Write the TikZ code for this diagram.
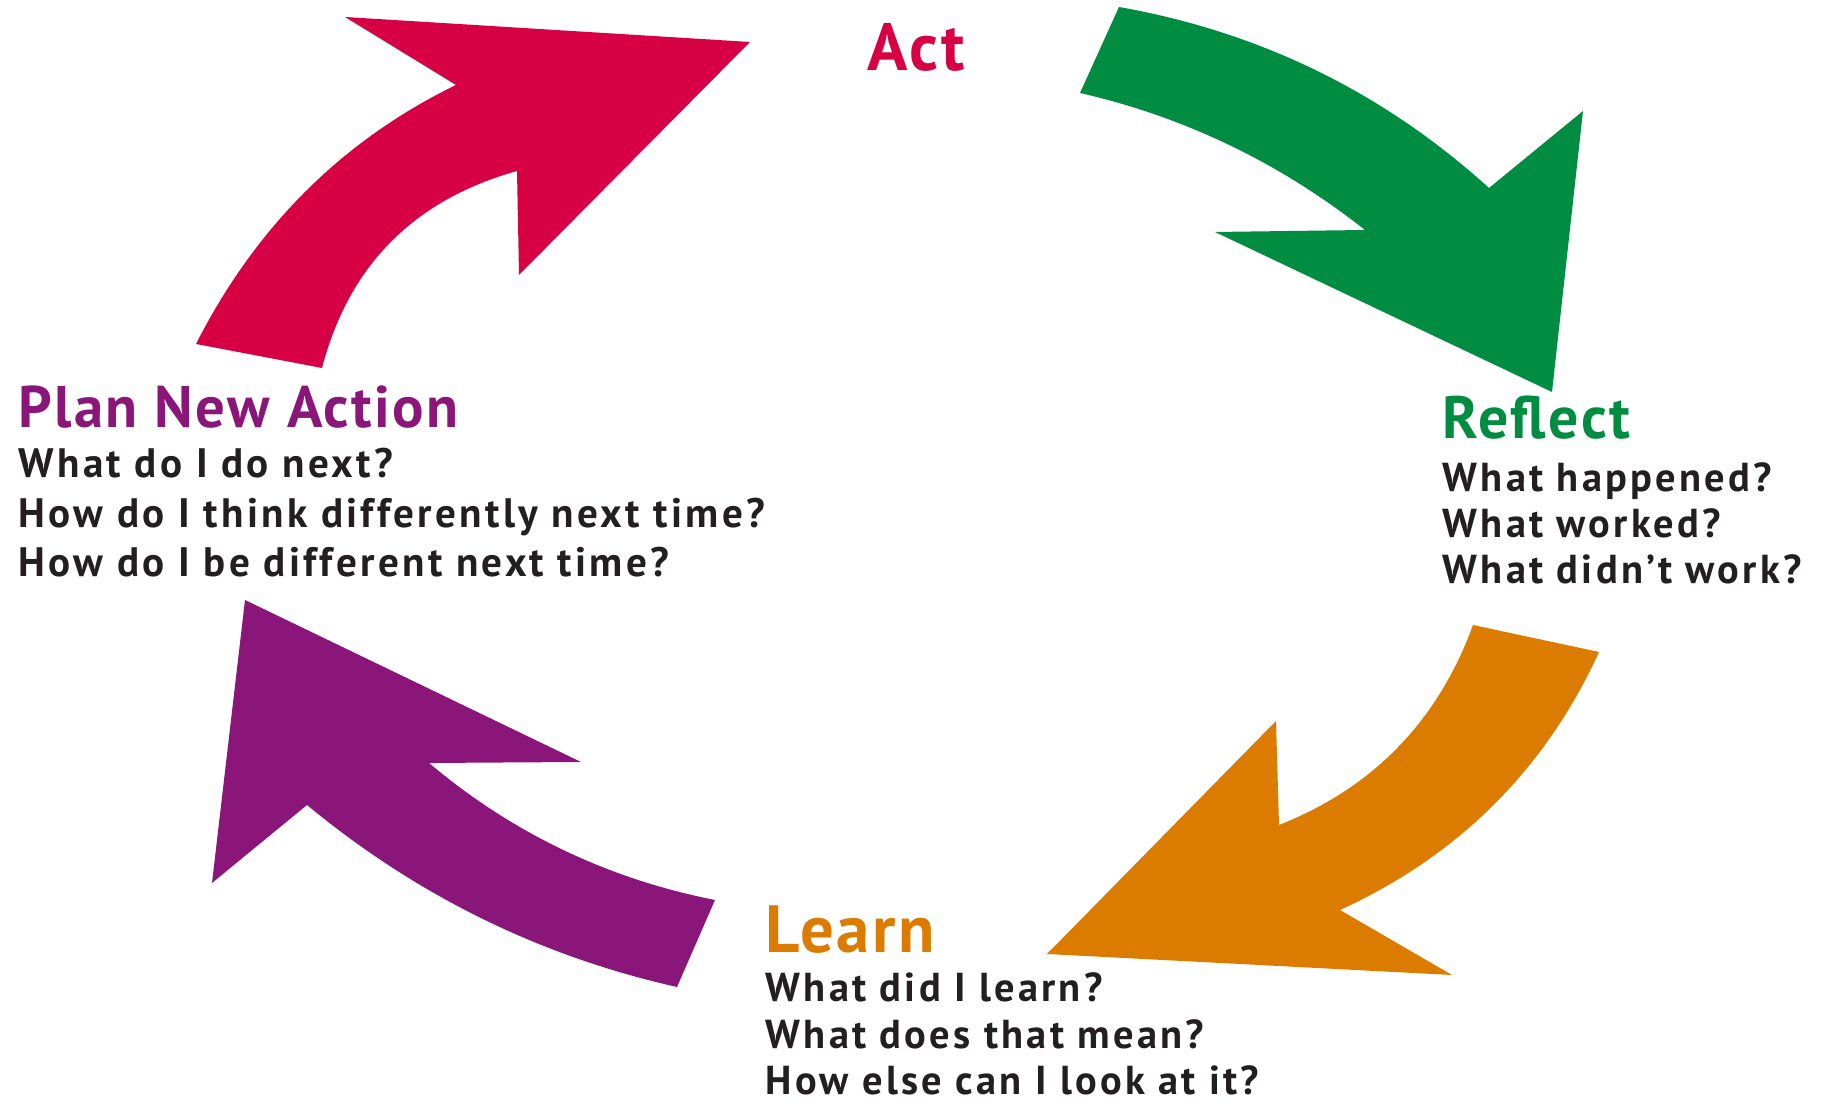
\documentclass[tikz,border=0pt]{standalone}
\usepackage{fontspec}
\setmainfont{PT Sans}
\newfontfamily\headfont[LetterSpace=4]{PT Sans}
\newfontfamily\questfont[LetterSpace=8]{PT Sans}
\usetikzlibrary{positioning}

\definecolor{actred}{RGB}{215,0,68}
\definecolor{reflectgreen}{RGB}{0,140,65}
\definecolor{learnorange}{RGB}{219,123,0}
\definecolor{planpurple}{RGB}{137,22,120}
\definecolor{qgray}{RGB}{35,31,32}

\tikzset{
  heading/.style={anchor=base west, inner sep=0pt, text=#1,
    font=\fontsize{17}{20}\headfont\bfseries},
  question/.style={anchor=base west, inner sep=0pt, text=qgray,
    font=\fontsize{11.5}{14}\questfont\bfseries}
}

\begin{document}
\begin{tikzpicture}
                \useasboundingbox (0,0) rectangle (18.21,11.06);

                % Act arrow
                \fill[actred] (3.45,10.89) -- (7.50,10.64) -- (5.19,8.31) -- (5.17,9.35)
                    .. controls (4.14,9.06) and (3.49,8.41) .. (3.22,7.38) -- (1.96,7.62)
                    .. controls (2.55,8.78) and (3.41,9.65) .. (4.56,10.21) -- cycle;

                % Reflect arrow
                \fill[reflectgreen] (11.19,10.99) .. controls (12.60,10.74) and (13.83,10.14) .. (14.89,9.18)
                    -- (15.83,9.95) -- (15.52,7.14) -- (12.15,8.74) -- (13.65,8.76)
                    .. controls (12.80,9.43) and (11.85,9.89) .. (10.80,10.13) -- cycle;

                % Learn arrow
                \fill[learnorange] (14.73,4.81) -- (15.99,4.54)
                    .. controls (15.45,3.36) and (14.58,2.50) .. (13.40,1.96)
                    -- (14.52,1.31) -- (10.47,1.52) -- (12.76,3.85) -- (12.79,2.81)
                    .. controls (13.73,3.18) and (14.38,3.85) .. (14.73,4.81) -- cycle;

                % Plan arrow
                \fill[planpurple] (2.45,5.06) -- (5.81,3.44) -- (4.29,3.43)
                    .. controls (5.12,2.73) and (6.08,2.27) .. (7.15,2.06) -- (6.77,1.19)
                    .. controls (5.39,1.50) and (4.16,2.11) .. (3.07,3.01) -- (2.12,2.23) -- cycle;

                % Headings
                \node[heading=actred, font=\fontsize{19}{22}\headfont\bfseries] (act) at (8.67,10.35) {Act};
                \node[heading=reflectgreen] (reflect) at (14.42,6.67) {Reflect};
                \node[heading=learnorange, font=\fontsize{19}{22}\headfont\bfseries] (learn) at (7.65,1.53) {Learn};
                \node[heading=planpurple, font=\fontsize{16.7}{20}\headfont\bfseries] (plan) at (0.18,6.78) {Plan New Action};

                % Questions
                \foreach \q [count=\i] in {What happened?, What worked?, What didn’t work?} {
                    \pgfmathsetmacro{\yq}{6.14-0.46*(\i-1)}
                    \node[question] (reflect\i) at (14.42,\yq) {\q};
                }
                \foreach \q [count=\i] in {What did I learn?, What does that mean?, How else can I look at it?} {
                    \pgfmathsetmacro{\yq}{1.04-0.465*(\i-1)}
                    \node[question] (learn\i) at (7.65,\yq) {\q};
                }
                \foreach \q [count=\i] in {What do I do next?, How do I think differently next time?, How do I be different next time?} {
                    \pgfmathsetmacro{\yq}{6.28-0.495*(\i-1)}
                    \node[question, font=\fontsize{11.7}{14}\questfont\bfseries] (plan\i) at (0.18,\yq) {\q};
                }
            \end{tikzpicture}
\end{document}
